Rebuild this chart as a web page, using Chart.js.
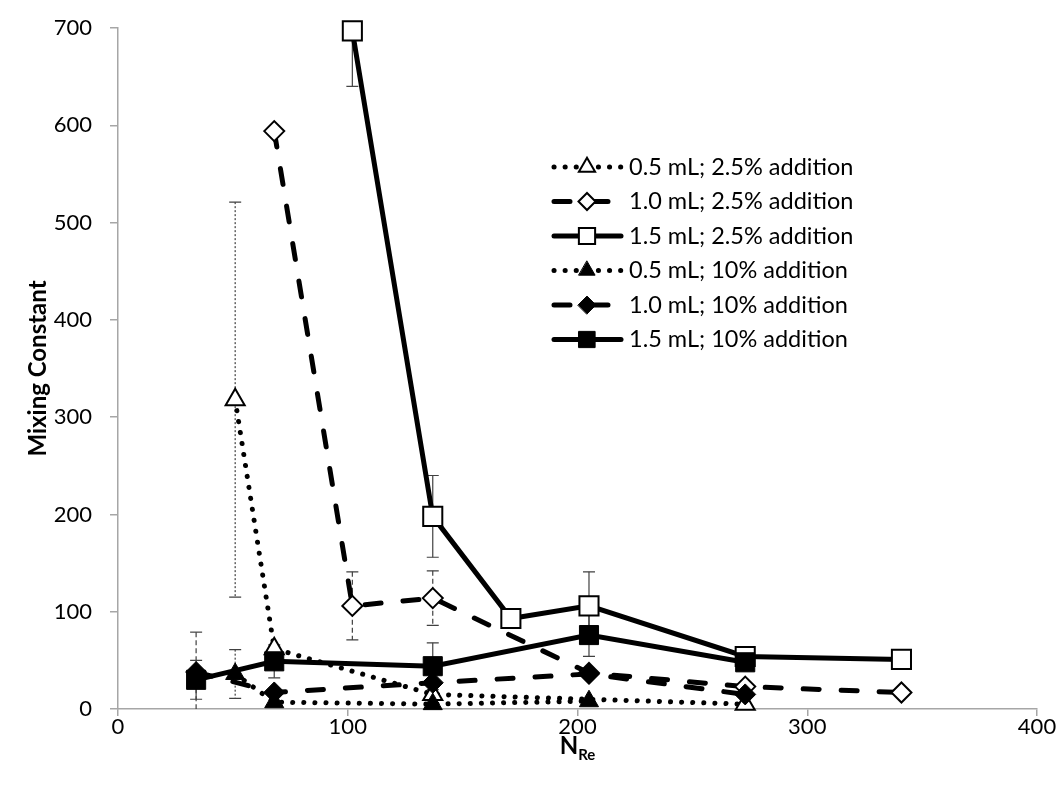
<!DOCTYPE html>
<html>
<head>
<meta charset="utf-8">
<script src="https://cdn.jsdelivr.net/npm/chart.js@4.4.0/dist/chart.umd.min.js"></script>
<style>
  html, body { margin: 0; padding: 0; background: #fff; }
  #wrap { width: 1058px; height: 786px; position: relative; }
</style>
</head>
<body>
<div id="wrap"><canvas id="chart"></canvas></div>
<script>
// Series labels (legend order)
const seriesNames = [
  "0.5 mL; 2.5% addition",
  "1.0 mL; 2.5% addition",
  "1.5 mL; 2.5% addition",
  "0.5 mL; 10% addition",
  "1.0 mL; 10% addition",
  "1.5 mL; 10% addition"
];

// N_Re values, mixing constants and error bar half-widths
const xA = [51, 68, 137, 273],            yA = [318, 62, 15, 5],           eA = [203, null, null, null];
const xB = [68, 102, 137, 205, 273, 341], yB = [594, 106, 114, 37, 23, 17], eB = [null, 35, 28, null, null, null];
const xC = [102, 137, 171, 205, 273, 341], yC = [697, 198, 93, 106, 54, 51], eC = [57, 42, null, 35, null, null];
const xD = [51, 68, 137, 205],            yD = [36, 7, 5, 8],              eD = [25, null, null, null];
const xE = [34, 68, 137, 205, 273],       yE = [38, 17, 27, 36, 15],       eE = [41, null, null, null, null];
const xF = [34, 68, 137, 205, 273],       yF = [30, 49, 44, 76, 48],       eF = [20, 17, 24, 22, null];

const xTicks = [0, 100, 200, 300, 400];
const yTicks = [0, 100, 200, 300, 400, 500, 600, 700];

const FONT = "Lato, 'Open Sans', sans-serif";
const DOT = [0.1, 11], DASH = [16, 22], SOLID = [];

function pts(xs, ys) { return xs.map((x, i) => ({ x: x, y: ys[i] })); }

function series(i, xs, ys, errs, dash, marker, open, radius) {
  return {
    label: seriesNames[i],
    data: pts(xs, ys),
    errors: errs,
    showLine: true,
    tension: 0,
    clip: false,
    borderColor: "#000",
    borderWidth: 5,
    borderDash: dash,
    borderCapStyle: "round",
    pointStyle: marker,
    pointRadius: radius,
    pointBackgroundColor: open ? "#fff" : "#000",
    pointBorderColor: "#000",
    pointBorderWidth: open ? 2 : 1,
    order: 5 - i
  };
}

const datasets = [
  series(0, xA, yA, eA, DOT, "triangle", true, 11),
  series(1, xB, yB, eB, DASH, "rectRot", true, 10),
  series(2, xC, yC, eC, SOLID, "rect", true, 13.5),
  series(3, xD, yD, eD, DOT, "triangle", false, 11),
  series(4, xE, yE, eE, DASH, "rectRot", false, 10.5),
  series(5, xF, yF, eF, SOLID, "rect", false, 13.5)
];

const errDash = [[2, 2], [5, 3], [], [2, 2], [5, 3], []];

// vertical error bars, drawn under the lines, kept inside the axis range
const errorBars = {
  id: "errorBars",
  beforeDatasetsDraw(chart) {
    const ctx = chart.ctx, xs = chart.scales.x, ys = chart.scales.y;
    const yMax = yTicks[yTicks.length - 1];
    ctx.save();
    ctx.strokeStyle = "#404040";
    ctx.lineWidth = 1.2;
    chart.data.datasets.forEach((d, i) => {
      d.data.forEach((p, j) => {
        const e = d.errors[j];
        if (e == null) return;
        const px = xs.getPixelForValue(p.x);
        const hi = Math.min(yMax, p.y + e), lo = Math.max(0, p.y - e);
        const top = ys.getPixelForValue(hi);
        const bot = ys.getPixelForValue(lo);
        ctx.setLineDash(errDash[i]);
        ctx.beginPath();
        ctx.moveTo(px, top); ctx.lineTo(px, bot);
        ctx.stroke();
        ctx.setLineDash([]);
        ctx.beginPath();
        if (hi < yMax) { ctx.moveTo(px - 6, top); ctx.lineTo(px + 6, top); }
        if (lo > 0) { ctx.moveTo(px - 6, bot); ctx.lineTo(px + 6, bot); }
        ctx.stroke();
      });
    });
    ctx.restore();
  }
};

// Excel style legend: line sample with marker in the middle
const lineLegend = {
  id: "lineLegend",
  afterDraw(chart) {
    const ctx = chart.ctx;
    ctx.save();
    chart.data.datasets.forEach((d, i) => {
      const y = 167 + i * 34.5;
      ctx.strokeStyle = "#000";
      ctx.lineWidth = d.borderWidth;
      ctx.lineCap = "round";
      ctx.setLineDash(d.borderDash);
      ctx.beginPath();
      ctx.moveTo(554, y); ctx.lineTo(621, y);
      ctx.stroke();
      ctx.setLineDash([]);
      ctx.fillStyle = d.pointBackgroundColor;
      ctx.lineWidth = d.pointBorderWidth;
      Chart.helpers.drawPoint(ctx, { pointStyle: d.pointStyle, radius: d.pointRadius * 0.85, rotation: 0, borderWidth: d.pointBorderWidth }, 587, y);
      ctx.fillStyle = "#000";
      ctx.font = "23.5px " + FONT;
      ctx.textBaseline = "middle";
      ctx.textAlign = "left";
      ctx.fillText(d.label, 629, y);
    });
    ctx.restore();
  }
};

// x axis title with subscript
const xTitle = {
  id: "xTitle",
  afterDraw(chart) {
    const ctx = chart.ctx, a = chart.chartArea;
    const cx = (a.left + a.right) / 2, base = 754;
    ctx.save();
    ctx.fillStyle = "#000";
    ctx.textBaseline = "alphabetic";
    ctx.font = "bold 24px " + FONT;
    const wN = ctx.measureText("N").width;
    ctx.font = "bold 15px " + FONT;
    const wR = ctx.measureText("Re").width;
    const x0 = cx - (wN + wR) / 2;
    ctx.font = "bold 24px " + FONT;
    ctx.textAlign = "left";
    ctx.fillText("N", x0, base);
    ctx.font = "bold 15px " + FONT;
    ctx.fillText("Re", x0 + wN, base + 6);
    ctx.restore();
  }
};

const axisGrey = "#a6a6a6";

new Chart(document.getElementById("chart"), {
  type: "scatter",
  data: { datasets: datasets },
  options: {
    responsive: true,
    maintainAspectRatio: false,
    animation: false,
    layout: { padding: { top: 28, right: 21, left: 0, bottom: 0 } },
    plugins: { legend: { display: false }, tooltip: { enabled: false } },
    scales: {
      x: {
        type: "linear",
        min: xTicks[0],
        max: xTicks[xTicks.length - 1],
        afterBuildTicks: s => { s.ticks = xTicks.map(v => ({ value: v })); },
        afterFit: s => { s.height = 77; s.paddingLeft = 0; s.paddingRight = 0; },
        ticks: { color: "#000", font: { family: FONT, size: 22 }, padding: -2, maxRotation: 0 },
        grid: { drawOnChartArea: false, drawTicks: true, tickLength: 7, color: axisGrey, lineWidth: 1.5 },
        border: { color: axisGrey, width: 1.5 }
      },
      y: {
        min: yTicks[0],
        max: yTicks[yTicks.length - 1],
        afterBuildTicks: s => { s.ticks = yTicks.map(v => ({ value: v })); },
        afterFit: s => { s.width = 118; s.paddingTop = 0; s.paddingBottom = 0; },
        ticks: { color: "#000", font: { family: FONT, size: 22 }, padding: 18 },
        grid: { drawOnChartArea: false, drawTicks: true, tickLength: 8, color: axisGrey, lineWidth: 1.5 },
        border: { color: axisGrey, width: 1.5 },
        title: { display: true, text: "Mixing Constant", color: "#000", font: { family: FONT, size: 24, weight: "bold" }, padding: { top: 24, bottom: 0 } }
      }
    }
  },
  plugins: [errorBars, lineLegend, xTitle]
});
</script>
</body>
</html>
